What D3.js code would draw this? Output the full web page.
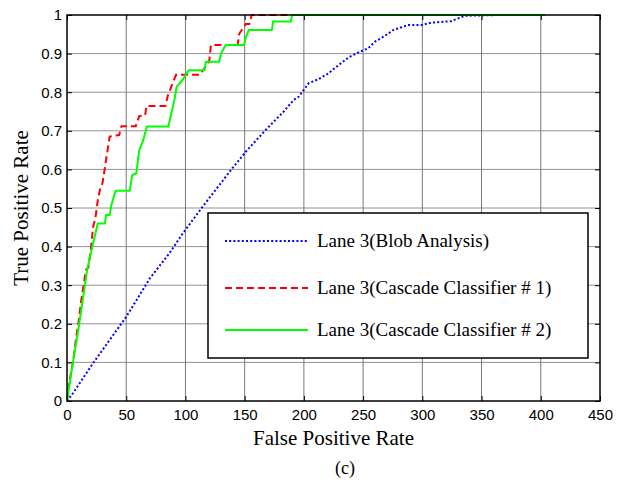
<!DOCTYPE html>
<html>
<head>
<meta charset="utf-8">
<script src="https://cdn.jsdelivr.net/npm/d3@7"></script>
<style>
  body { margin: 0; background: #fff; }
</style>
</head>
<body>
<script>
// ROC curves for lane 3
const blobData = [[0,0],[5,0.02],[22,0.098],[50,0.218],[70,0.318],[86.5,0.383],[97.7,0.434],[114.4,0.503],
  [139.6,0.603],[151,0.646],[167.7,0.702],[183,0.75],[191.4,0.78],[195.6,0.788],[204,0.823],[212.4,0.834],
  [220.8,0.849],[229.2,0.87],[237.6,0.89],[247.4,0.905],[254.4,0.914],[260,0.931],[268.4,0.946],[275.4,0.961],
  [288,0.974],[299.2,0.974],[307.6,0.98],[324.4,0.984],[330,0.991],[336,0.998],[364,1]];

const cascade1Data = [[0,0],[2,0.05],[5,0.1],[8,0.17],[10,0.21],[12,0.26],[14,0.3],[16,0.34],[18,0.345],
  [20,0.39],[22,0.45],[24,0.475],[26,0.52],[28,0.55],[30,0.565],[33,0.625],[36,0.685],[44,0.689],[46,0.712],
  [58,0.712],[61,0.738],[66,0.74],[67,0.764],[83,0.764],[85,0.79],[88,0.814],[92,0.845],[112,0.845],
  [116,0.862],[120,0.879],[121.5,0.922],[144,0.922],[145.5,0.952],[151,0.977],[154,0.977],[156,1],[190,1]];

const cascade2Data = [[0,0],[5,0.1],[9.5,0.184],[13.7,0.27],[17,0.34],[22,0.408],[26,0.46],[32,0.46],
  [33,0.482],[36,0.482],[37.5,0.508],[41,0.545],[53,0.545],[55,0.585],[58.5,0.59],[61,0.65],[64,0.672],
  [67.5,0.711],[85.5,0.711],[87.5,0.737],[90.7,0.78],[92.6,0.814],[97.7,0.832],[102.7,0.857],[116,0.857],
  [117.3,0.879],[128.5,0.879],[130,0.9],[134,0.922],[149.5,0.922],[151,0.943],[153.5,0.961],[173,0.961],
  [174,0.983],[189,0.983],[190,1],[404,1]];

const seriesNames = ["Lane 3(Blob Analysis)", "Lane 3(Cascade Classifier # 1)", "Lane 3(Cascade Classifier # 2)"];
const xTicks = [0, 50, 100, 150, 200, 250, 300, 350, 400, 450];
const yTicks = [0, 0.1, 0.2, 0.3, 0.4, 0.5, 0.6, 0.7, 0.8, 0.9, 1];

const width = 623, height = 484;
const margin = { top: 15, right: 23, bottom: 83, left: 67 };
const innerWidth = width - margin.left - margin.right;
const innerHeight = height - margin.top - margin.bottom;

const serif = "Liberation Serif, Times New Roman, serif";
const sans = "Liberation Sans, Arial, sans-serif";

const svg = d3.select("body").append("svg")
  .attr("width", width)
  .attr("height", height);

const g = svg.append("g")
  .attr("transform", `translate(${margin.left},${margin.top})`);

const x = d3.scaleLinear().domain([0, 450]).range([0, innerWidth]);
const y = d3.scaleLinear().domain([0, 1]).range([innerHeight, 0]);

// grid
g.append("g").selectAll("line").data(xTicks.slice(1, -1)).join("line")
  .attr("x1", d => x(d)).attr("x2", d => x(d))
  .attr("y1", 0).attr("y2", innerHeight)
  .attr("stroke", "#555").attr("stroke-width", 0.8);
g.append("g").selectAll("line").data(yTicks.slice(1, -1)).join("line")
  .attr("y1", d => y(d)).attr("y2", d => y(d))
  .attr("x1", 0).attr("x2", innerWidth)
  .attr("stroke", "#777").attr("stroke-width", 0.8);

// axes, ticks pointing in
const xAxis = g.append("g")
  .attr("transform", `translate(0,${innerHeight})`)
  .call(d3.axisBottom(x).tickValues(xTicks).tickSizeInner(-5).tickSizeOuter(0).tickPadding(8).tickFormat(d3.format("d")));
const yAxis = g.append("g")
  .call(d3.axisLeft(y).tickValues(yTicks).tickSizeInner(-5).tickSizeOuter(0).tickPadding(5).tickFormat(d => d === 0 || d === 1 ? d : d3.format(".1f")(d)));
g.append("g").call(d3.axisTop(x).tickValues(xTicks).tickSizeInner(-5).tickSizeOuter(0).tickFormat(""));
g.append("g").attr("transform", `translate(${innerWidth},0)`)
  .call(d3.axisRight(y).tickValues(yTicks).tickSizeInner(-5).tickSizeOuter(0).tickFormat(""));

svg.selectAll(".domain").remove();
svg.selectAll(".tick line").attr("stroke", "#000");
[xAxis, yAxis].forEach(a => a.selectAll("text")
  .attr("font-family", sans)
  .attr("font-size", "15px")
  .attr("fill", "#000"));

// curves
const line = d3.line().x(d => x(d[0])).y(d => y(d[1]));
const styles = [
  { data: blobData, color: "#0000ff", dash: "2,2.2" },
  { data: cascade1Data, color: "#ff0000", dash: "7,4" },
  { data: cascade2Data, color: "#00ff00", dash: null }
];
styles.forEach(s => {
  g.append("path")
    .datum(s.data)
    .attr("d", line)
    .attr("fill", "none")
    .attr("stroke", s.color)
    .attr("stroke-width", 2)
    .attr("stroke-dasharray", s.dash);
});

// frame
g.append("rect")
  .attr("width", innerWidth).attr("height", innerHeight)
  .attr("fill", "none").attr("stroke", "#000").attr("stroke-width", 1.5);

// legend
const legend = svg.append("g").attr("transform", "translate(208,213)");
legend.append("rect")
  .attr("width", 380).attr("height", 145)
  .attr("fill", "#fff").attr("stroke", "#000").attr("stroke-width", 1.5);
styles.forEach((s, i) => {
  const ly = [28, 75, 117][i];
  legend.append("line")
    .attr("x1", 17).attr("x2", 100).attr("y1", ly).attr("y2", ly)
    .attr("stroke", s.color).attr("stroke-width", 2)
    .attr("stroke-dasharray", s.dash);
  legend.append("text")
    .attr("x", 109).attr("y", ly + 6)
    .attr("font-family", serif)
    .attr("font-size", "19px")
    .text(seriesNames[i]);
});

// titles
svg.append("text")
  .attr("x", margin.left + innerWidth / 2).attr("y", 445)
  .attr("text-anchor", "middle")
  .attr("font-family", serif)
  .attr("font-size", "21px")
  .text("False Positive Rate");
svg.append("text")
  .attr("transform", `translate(28,${margin.top + innerHeight / 2}) rotate(-90)`)
  .attr("text-anchor", "middle")
  .attr("font-family", serif)
  .attr("font-size", "21px")
  .text("True Positive Rate");
svg.append("text")
  .attr("x", 345).attr("y", 474)
  .attr("text-anchor", "middle")
  .attr("font-family", serif)
  .attr("font-size", "18px")
  .text("(c)");
</script>
</body>
</html>
